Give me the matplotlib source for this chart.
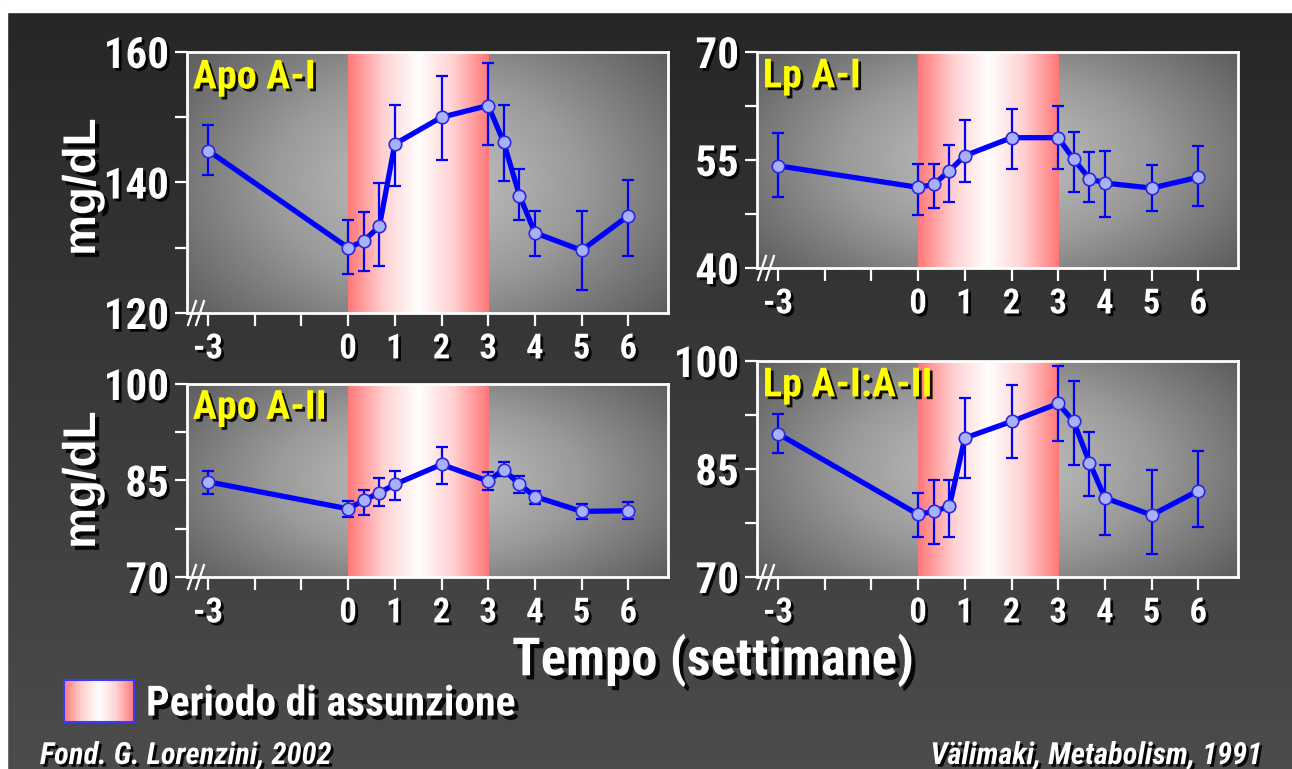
import numpy as np
import matplotlib
matplotlib.use('Agg')
import matplotlib.pyplot as plt
import matplotlib.patheffects as pe
from matplotlib.colors import LinearSegmentedColormap
from matplotlib import font_manager

# weeks from start of intake, shared by all panels
weeks = [-3, 0, 0.33, 0.67, 1, 2, 3, 3.33, 3.67, 4, 5, 6]
tick_weeks = [-3, -2, -1, 0, 1, 2, 3, 4, 5, 6]
tick_names = ['-3', '', '', '0', '1', '2', '3', '4', '5', '6']

# Apo A-I (mg/dL), mean and error bar ends
apoa1 = [144.9, 130.0, 131.0, 133.3, 145.9, 150.0, 151.8, 146.2, 138.0, 132.3, 129.6, 134.9]
apoa1_hi = [148.8, 134.3, 135.5, 139.9, 151.9, 156.3, 158.3, 151.9, 142.0, 135.7, 135.7, 140.4]
apoa1_lo = [141.2, 126.0, 126.4, 127.2, 139.4, 143.5, 145.7, 140.2, 134.2, 128.8, 123.6, 128.8]

# Lp A-I
lpa1 = [54.2, 51.2, 51.6, 53.5, 55.6, 58.1, 58.1, 55.1, 52.4, 51.8, 51.1, 52.6]
lpa1_hi = [58.7, 54.5, 54.5, 57.1, 60.6, 62.1, 62.5, 58.9, 56.1, 56.3, 54.3, 57.0]
lpa1_lo = [49.8, 47.4, 48.4, 49.2, 51.9, 53.7, 53.7, 50.6, 49.1, 47.1, 47.9, 48.6]

# Apo A-II
apoa2 = [84.8, 80.6, 81.9, 83.1, 84.4, 87.5, 84.9, 86.7, 84.4, 82.5, 80.2, 80.3]
apoa2_hi = [86.5, 81.8, 83.5, 85.4, 86.5, 90.2, 86.3, 87.8, 85.7, 83.4, 81.4, 81.6]
apoa2_lo = [82.9, 79.4, 79.6, 81.1, 81.9, 84.5, 83.6, 85.7, 83.1, 81.4, 79.0, 79.0]

# Lp A-I:A-II
lpa1a2 = [89.9, 78.7, 79.1, 79.8, 89.3, 91.6, 94.1, 91.6, 85.9, 81.0, 78.6, 82.0]
lpa1a2_hi = [92.6, 81.7, 83.5, 83.5, 94.8, 96.7, 99.3, 97.2, 90.1, 85.6, 84.9, 87.5]
lpa1a2_lo = [87.2, 75.6, 74.6, 75.5, 83.8, 86.5, 88.9, 85.6, 81.2, 75.9, 73.2, 77.0]

intake = (0, 3)  # periodo di assunzione

# pick a condensed font if there is one
names = set(f.name for f in font_manager.fontManager.ttflist)
FONT = 'Liberation Sans'
for cand in ['Liberation Sans Narrow', 'Roboto Condensed', 'DejaVu Sans Condensed']:
	if cand in names:
		FONT = cand
		break
plt.rcParams['font.family'] = [FONT, 'DejaVu Sans']

W, H = 1292, 769
fig = plt.figure(figsize=(W/100., H/100.), dpi=100)

def shadow(d=2):
	return [pe.withSimplePatchShadow(offset=(d, -d), shadow_rgbFace='black', alpha=0.9)]

# dark slide background, lighter towards the bottom
bg = fig.add_axes([0, 0, 1, 1], zorder=-10)
grad = np.linspace(0, 1, 256).reshape(-1, 1)
bg.imshow(grad, extent=(0, 1, 0, 1), aspect='auto', origin='upper',
	cmap=LinearSegmentedColormap.from_list('bgc', ['#262626', '#4c4c4c']))
bg.add_patch(plt.Rectangle((0, 1-12./H), 1, 12./H, color='white'))
bg.add_patch(plt.Rectangle((0, 0), 7./W, 1, color='white'))
bg.set_xlim(0, 1)
bg.set_ylim(0, 1)
bg.axis('off')

band_cmap = LinearSegmentedColormap.from_list('band', ['#ff7878', '#ffd0d0', '#ffffff', '#ffd0d0', '#ff7878'])
panel_cmap = LinearSegmentedColormap.from_list('panel', ['#c6c6c6', '#9a9a9a', '#5c5c5c'])

yy, xx = np.mgrid[-1:1:200j, -1:1:300j]
radial = np.sqrt(xx**2 + (yy*0.8)**2) / np.sqrt(1 + 0.64)

xlo, xhi = -3.45, 6.85

panels = [
	# title, values, hi, lo, ylim, major, minor, rect(px: left, top, right, bottom)
	('Apo A-I', apoa1, apoa1_hi, apoa1_lo, (120, 160), [120, 140, 160], [130, 150], (187, 52, 668, 313)),
	('Lp A-I', lpa1, lpa1_hi, lpa1_lo, (40, 70), [40, 55, 70], [47.5, 62.5], (757, 52, 1238, 268)),
	('Apo A-II', apoa2, apoa2_hi, apoa2_lo, (70, 100), [70, 85, 100], [77.5, 92.5], (187, 384, 668, 577)),
	('Lp A-I:A-II', lpa1a2, lpa1a2_hi, lpa1a2_lo, (70, 100), [70, 85, 100], [77.5, 92.5], (757, 361, 1238, 577)),
]

for title, vals, hi, lo, ylim, major, minor, (l, t, r, b) in panels:
	ax = fig.add_axes([l/float(W), 1-b/float(H), (r-l)/float(W), (b-t)/float(H)])
	ax.imshow(radial, extent=(xlo, xhi, ylim[0], ylim[1]), aspect='auto', cmap=panel_cmap, zorder=0)
	ax.imshow(grad.T, extent=(intake[0], intake[1], ylim[0], ylim[1]), aspect='auto', cmap=band_cmap, zorder=1)

	v = np.array(vals)
	err = [v - np.array(lo), np.array(hi) - v]
	ax.errorbar(weeks, vals, yerr=err, fmt='none', ecolor='#0000ff', elinewidth=1.6,
		capsize=4, capthick=1.6, zorder=3)
	ax.plot(weeks, vals, '-', color='#0000ff', lw=3.8, zorder=4)
	ax.plot(weeks, vals, 'o', ms=9, mfc='#a8b0ff', mec='#2a2ad8', mew=1.2, zorder=5)

	ax.set_xlim(xlo, xhi)
	ax.set_ylim(ylim)
	ax.set_xticks(tick_weeks)
	ax.set_xticklabels(tick_names)
	ax.set_yticks(major)
	ax.set_yticks(minor, minor=True)
	ax.set_yticklabels([str(m) for m in major])
	for s in ax.spines.values():
		s.set_color('white')
		s.set_linewidth(2)
	ax.tick_params(axis='both', which='both', direction='out', color='white', width=1.6, length=9)
	ax.tick_params(axis='x', labelsize=25, pad=5, labelcolor='white')
	ax.tick_params(axis='y', labelsize=31, pad=4, labelcolor='white')
	for lab in ax.get_xticklabels() + ax.get_yticklabels():
		lab.set_fontweight('bold')
		lab.set_path_effects(shadow())

	# axis break mark
	pw, ph = float(r-l), float(b-t)
	for dx in [0, 8]:
		ax.plot([(1+dx)/pw, (9+dx)/pw], [-12/ph, 12/ph], color='white', lw=1.6,
			transform=ax.transAxes, clip_on=False, zorder=6)

	ax.text(0.012, 0.975, title, transform=ax.transAxes, ha='left', va='top',
		color='#ffff00', fontsize=29, fontweight='bold', path_effects=shadow(), zorder=7)

# y axis titles
for yc in [187, 480]:
	fig.text(83./W, 1-yc/float(H), 'mg/dL', rotation=90, ha='center', va='center',
		color='white', fontsize=33, fontweight='bold', family=['Liberation Sans', 'DejaVu Sans'],
		path_effects=shadow(3))

fig.text(713./W, 1-660./H, 'Tempo (settimane)', ha='center', va='center', color='white',
	fontsize=38, fontweight='bold', path_effects=shadow(3))

# legend swatch for the intake period
lg = fig.add_axes([64./W, 1-722./H, 70./W, 42./H])
lg.imshow(grad.T, extent=(0, 1, 0, 1), aspect='auto', cmap=band_cmap)
lg.set_xticks([])
lg.set_yticks([])
for s in lg.spines.values():
	s.set_color('#3a3aff')
	s.set_linewidth(1.5)
fig.text(146./W, 1-704./H, 'Periodo di assunzione', ha='left', va='center', color='white',
	fontsize=30, fontweight='bold', path_effects=shadow(3))

fig.text(40./W, 1-764./H, 'Fond. G. Lorenzini, 2002', ha='left', va='baseline', color='white',
	fontsize=22, fontweight='bold', style='italic', path_effects=shadow())
fig.text(1262./W, 1-764./H, u'V\u00e4limaki, Metabolism, 1991', ha='right', va='baseline', color='white',
	fontsize=22, fontweight='bold', style='italic', path_effects=shadow())

plt.savefig('out.png', dpi=100)
